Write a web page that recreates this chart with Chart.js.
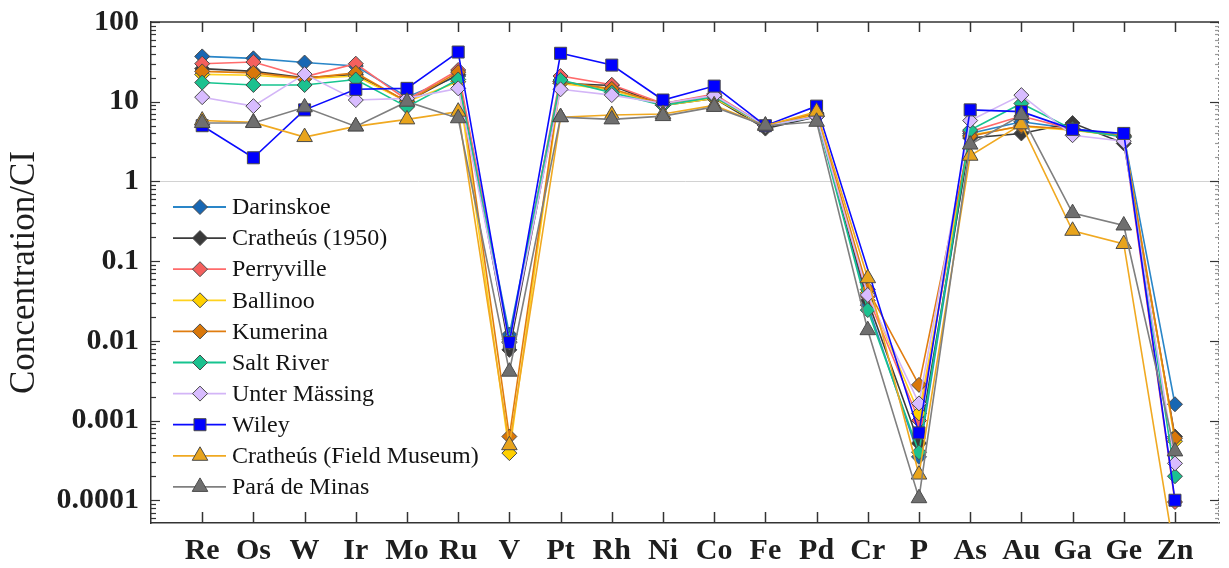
<!DOCTYPE html>
<html>
<head>
<meta charset="utf-8">
<script src="https://cdn.jsdelivr.net/npm/chart.js@4/dist/chart.umd.min.js"></script>
<style>
  html, body { margin: 0; padding: 0; background: #fff; }
  #wrap { width: 1229px; height: 568px; position: relative; }
</style>
</head>
<body>
<div id="wrap"><canvas id="c" width="1229" height="568"></canvas></div>
<script>
// ---------- data ----------
const elements = ['Re','Os','W','Ir','Mo','Ru','V','Pt','Rh','Ni','Co','Fe','Pd','Cr','P','As','Au','Ga','Ge','Zn'];

const darinskoe   = [37, 35, 31, 28, 11.5, 21, 0.012, 18, 14, 9.5, 12, 5.0, 7.0, 0.028, 0.00035, 4.0, 5.6, 4.6, 3.8, 0.0016];
const cratheus1950 = [26, 24, 20, 22, 10, 22, 0.0077, 17, 16, 9.0, 11, 4.6, 6.5, 0.032, 0.00052, 3.5, 4.0, 5.4, 3.0, 0.00063];
const perryville  = [30, 31.5, 20.5, 30, 10.5, 25, 0.0097, 21, 16.3, 9.5, 12.5, 5.0, 6.8, 0.036, 0.0010, 4.2, 6.6, 4.5, 3.6, 0.000095];
const ballinoo    = [22, 21.5, 19.5, 21, 10, 17.8, 0.00039, 17, 14, 9.0, 11, 5.0, 7.0, 0.040, 0.00123, 3.8, 4.9, 4.4, 3.7, 0.00055];
const kumerina    = [24, 23, 19.6, 23, 10, 23.5, 0.00063, 18, 14.5, 9.3, 11.5, 5.0, 7.2, 0.044, 0.0028, 3.7, 5.0, 4.5, 3.7, 0.0006];
const saltRiver   = [17.4, 16.2, 16.2, 19, 8.6, 19, 0.0105, 18.7, 13, 9.0, 11.5, 5.0, 6.5, 0.0243, 0.0004, 4.4, 9.5, 4.5, 3.6, 0.0002];
const unterMassing = [11.4, 8.8, 22.2, 10.5, 11, 14.7, 0.0095, 14.3, 12.1, 9.5, 12, 5.0, 6.5, 0.0376, 0.00164, 5.8, 12.1, 3.8, 3.2, 0.00029];
const wiley       = [5.0, 1.98, 7.9, 14.3, 14.7, 42, 0.0095, 40.5, 28.8, 10.5, 15.7, 5.0, 8.8, null, 0.0007, 7.9, 7.5, 4.5, 4.0, 0.0001];
const cratheusFM  = [5.8, 5.5, 3.6, 4.9, 6.0, 7.5, 0.00049, 6.4, 6.8, 7.0, 9.0, 5.0, 7.5, 0.061, 0.00021, 2.1, 5.2, 0.24, 0.164, 0.00002];
const paraDeMinas = [5.4, 5.4, 8.5, 4.9, 10, 6.2, 0.0041, 6.4, 6.0, 6.6, 8.6, 5.0, 5.6, 0.0136, 0.000106, 2.9, 6.8, 0.40, 0.28, 0.00041];

const seriesNames = ['Darinskoe','Cratheús (1950)','Perryville','Ballinoo','Kumerina','Salt River','Unter Mässing','Wiley','Cratheús (Field Museum)','Pará de Minas'];
const seriesValues = [darinskoe, cratheus1950, perryville, ballinoo, kumerina, saltRiver, unterMassing, wiley, cratheusFM, paraDeMinas];

const yTickValues = [0.0001, 0.001, 0.01, 0.1, 1, 10, 100];
const yTickLabels = ['0.0001', '0.001', '0.01', '0.1', '1', '10', '100'];

// ---------- styles ----------
const lineColors   = ['#2a86c8','#3b3b3b','#ff6b6b','#ffd21f','#e07d10','#16c48f','#d3b5f7','#0a0aff','#f0a921','#7f7f7f'];
const markerColors = ['#1867b3','#3a3a3a','#f4605e','#ffd000','#d9770a','#1cc18f','#d8bcff','#0000ff','#e8a41c','#6f6f6f'];
const markerStyles = ['rectRot','rectRot','rectRot','rectRot','rectRot','rectRot','rectRot','rect','triangle','triangle'];
const markerRadius = [7.5,7.5,7.5,7.5,7.5,7.5,7.5,8.5,9,9];

const serif = '"Liberation Serif", "Times New Roman", serif';

const datasets = seriesNames.map((name, i) => ({
  label: name,
  data: seriesValues[i].map((v, j) => ({ x: j + 1, y: v })),
  borderColor: lineColors[i],
  backgroundColor: markerColors[i],
  borderWidth: 1.6,
  pointStyle: markerStyles[i],
  pointRadius: markerRadius[i],
  pointHoverRadius: markerRadius[i],
  pointBackgroundColor: markerColors[i],
  pointBorderColor: '#4a4a4a',
  pointBorderWidth: 1,
  tension: 0,
  fill: false,
  spanGaps: true,
  order: 20 - i
}));

// ---------- custom plugins ----------
function drawMarker(ctx, style, r, x, y) {
  ctx.beginPath();
  if (style === 'rectRot') {
    ctx.moveTo(x - r, y); ctx.lineTo(x, y - r); ctx.lineTo(x + r, y); ctx.lineTo(x, y + r);
  } else if (style === 'rect') {
    const s = Math.SQRT1_2 * r;
    ctx.rect(x - s, y - s, 2 * s, 2 * s);
  } else {
    let rad = 0;
    ctx.moveTo(x + Math.sin(rad) * r, y - Math.cos(rad) * r);
    rad += 2 * Math.PI / 3;
    ctx.lineTo(x + Math.sin(rad) * r, y - Math.cos(rad) * r);
    rad += 2 * Math.PI / 3;
    ctx.lineTo(x + Math.sin(rad) * r, y - Math.cos(rad) * r);
  }
  ctx.closePath();
  ctx.fill();
  ctx.stroke();
}

const framePlugin = {
  id: 'frame',
  afterDatasetsDraw(chart) {
    const ctx = chart.ctx;
    const a = chart.chartArea;
    const xs = chart.scales.x, ys = chart.scales.y;
    ctx.save();
    // top border
    ctx.strokeStyle = '#333';
    ctx.lineWidth = 1.5;
    ctx.beginPath(); ctx.moveTo(a.left, a.top); ctx.lineTo(a.right, a.top); ctx.stroke();
    // right dashed border
    ctx.save();
    ctx.strokeStyle = '#8a8a8a'; ctx.lineWidth = 1; ctx.setLineDash([2, 2]);
    ctx.beginPath(); ctx.moveTo(a.right - 0.5, a.top); ctx.lineTo(a.right - 0.5, a.bottom); ctx.stroke();
    ctx.restore();
    // category ticks top & bottom
    ctx.strokeStyle = '#333'; ctx.lineWidth = 1.5;
    elements.forEach((e, i) => {
      const px = Math.round(xs.getPixelForValue(i + 1)) + 0.5;
      ctx.beginPath(); ctx.moveTo(px, a.top); ctx.lineTo(px, a.top + 10); ctx.stroke();
      ctx.beginPath(); ctx.moveTo(px, a.bottom); ctx.lineTo(px, a.bottom - 11); ctx.stroke();
    });
    // log ticks left & right
    for (let p = -5; p <= 2; p++) {
      for (let k = 1; k <= 9; k++) {
        const v = k * Math.pow(10, p);
        if (v < ys.min || v > ys.max * 1.0001) continue;
        const py = Math.round(ys.getPixelForValue(v)) + 0.5;
        const major = k === 1;
        ctx.strokeStyle = '#333'; ctx.lineWidth = 1.2;
        ctx.beginPath(); ctx.moveTo(a.left, py); ctx.lineTo(a.left + (major ? 9 : 5), py); ctx.stroke();
        ctx.strokeStyle = major ? '#333' : '#999';
        ctx.beginPath(); ctx.moveTo(a.right, py); ctx.lineTo(a.right - (major ? 9 : 4), py); ctx.stroke();
      }
    }
    ctx.restore();
  }
};

const legendPlugin = {
  id: 'insideLegend',
  afterDraw(chart) {
    const ctx = chart.ctx;
    const x0 = 173, x1 = 226, mx = 200, tx = 232, y0 = 207, step = 31.1;
    ctx.save();
    ctx.font = '24px ' + serif;
    ctx.textBaseline = 'middle';
    ctx.textAlign = 'left';
    seriesNames.forEach((name, i) => {
      const y = y0 + i * step;
      ctx.strokeStyle = lineColors[i]; ctx.lineWidth = 1.8;
      ctx.beginPath(); ctx.moveTo(x0, y); ctx.lineTo(x1, y); ctx.stroke();
      ctx.fillStyle = markerColors[i]; ctx.strokeStyle = '#4a4a4a'; ctx.lineWidth = 1;
      drawMarker(ctx, markerStyles[i], markerRadius[i], mx, y);
      ctx.fillStyle = '#141414';
      ctx.fillText(name, tx, y + 1);
    });
    ctx.restore();
  }
};

// ---------- chart ----------
new Chart(document.getElementById('c'), {
  type: 'line',
  data: { datasets },
  plugins: [framePlugin, legendPlugin],
  options: {
    responsive: false,
    animation: false,
    devicePixelRatio: 1,
    layout: { padding: { top: 22, right: 2, left: 0, bottom: 0 } },
    plugins: { legend: { display: false }, tooltip: { enabled: false } },
    scales: {
      x: {
        type: 'linear',
        min: 0,
        max: 20.86,
        afterBuildTicks: (s) => { s.ticks = elements.map((e, i) => ({ value: i + 1 })); },
        afterFit: (s) => { s.height = 45; s.paddingLeft = 0; s.paddingRight = 0; },
        ticks: {
          autoSkip: false,
          maxRotation: 0,
          padding: 10,
          color: '#1e1e1e',
          font: { family: serif, size: 30, weight: 'bold' },
          callback: (v) => elements[v - 1] || ''
        },
        grid: { display: false, drawTicks: false },
        border: { display: true, color: '#333', width: 1.5 }
      },
      y: {
        type: 'logarithmic',
        min: 5.18e-5,
        max: 100,
        afterBuildTicks: (s) => { s.ticks = yTickValues.map(v => ({ value: v })); },
        afterFit: (s) => { s.width = 151; s.paddingTop = 0; s.paddingBottom = 0; },
        ticks: {
          padding: 12,
          color: '#1e1e1e',
          font: { family: serif, size: 30, weight: 'bold' },
          callback: (v) => { const i = yTickValues.findIndex(t => Math.abs(t - v) / t < 1e-6); return i >= 0 ? yTickLabels[i] : ''; }
        },
        grid: {
          drawTicks: false,
          color: (c) => (c.tick && Math.abs(c.tick.value - 1) < 1e-9) ? '#d2d2d2' : 'rgba(0,0,0,0)',
          lineWidth: 1
        },
        border: { display: true, color: '#333', width: 1.5 },
        title: {
          display: true,
          text: 'Concentration/CI',
          color: '#1e1e1e',
          font: { family: serif, size: 35, weight: 'normal' },
          padding: { top: 4, bottom: 4 }
        }
      }
    }
  }
});
</script>
</body>
</html>
